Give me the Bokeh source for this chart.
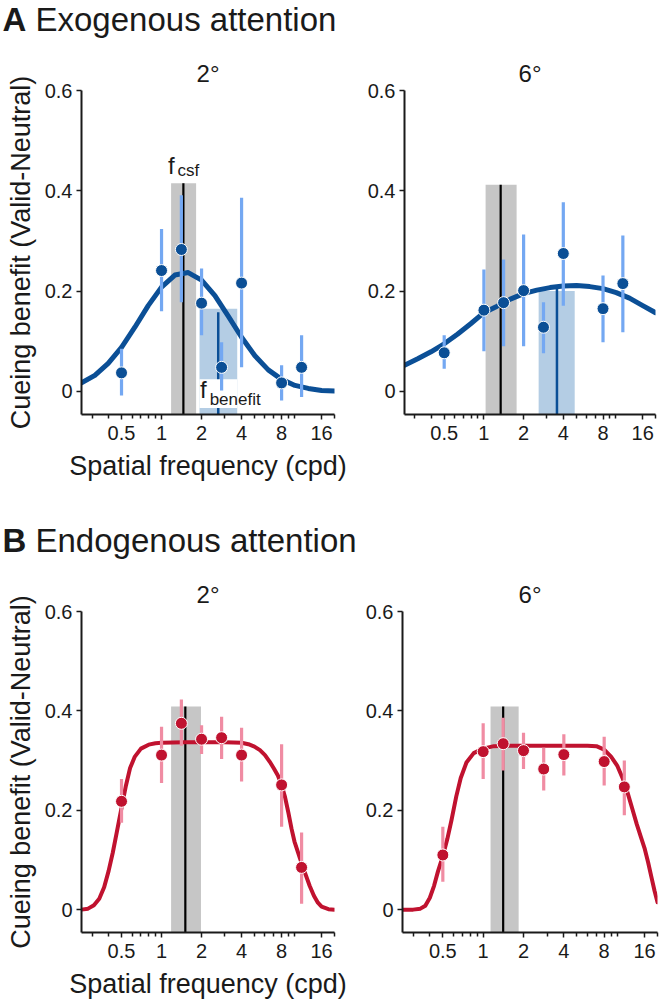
from bokeh.plotting import figure
from bokeh.layouts import column, row
from bokeh.models import Range1d, FixedTicker, CustomJSTickFormatter, Title
from bokeh.core.properties import value
from bokeh.embed import file_html
from bokeh.resources import INLINE

FONT = "Liberation Sans"
INK = "#1a1a1a"

# ---------------- data ----------------
sf = [0.5, 1.0, 1.41, 2.0, 2.83, 4.0, 8.0, 11.31]

exo2_mean = [0.037, 0.241, 0.283, 0.176, 0.048, 0.216, 0.017, 0.048]
exo2_lo = [-0.008, 0.160, 0.178, 0.112, 0.002, 0.048, -0.018, -0.011]
exo2_hi = [0.085, 0.324, 0.391, 0.245, 0.098, 0.386, 0.052, 0.112]

exo6_mean = [0.077, 0.162, 0.177, 0.201, 0.128, 0.275, 0.165, 0.215]
exo6_lo = [0.045, 0.080, 0.090, 0.090, 0.076, 0.171, 0.098, 0.118]
exo6_hi = [0.112, 0.243, 0.263, 0.313, 0.178, 0.377, 0.231, 0.311]

endo2_mean = [0.218, 0.311, 0.375, 0.343, 0.346, 0.311, 0.251, 0.085]
endo2_lo = [0.175, 0.255, 0.330, 0.313, 0.303, 0.258, 0.167, 0.012]
endo2_hi = [0.263, 0.368, 0.423, 0.371, 0.388, 0.366, 0.333, 0.155]

endo6_mean = [0.110, 0.318, 0.334, 0.320, 0.283, 0.312, 0.298, 0.247]
endo6_lo = [0.056, 0.263, 0.280, 0.283, 0.240, 0.270, 0.250, 0.190]
endo6_hi = [0.167, 0.375, 0.386, 0.356, 0.326, 0.353, 0.348, 0.300]

# fitted curves
exo_fit_f = [0.25, 0.315, 0.397, 0.5, 0.63, 0.794, 1.0, 1.26, 1.587, 2.0,
             2.52, 3.175, 4.0, 5.04, 6.35, 8.0, 10.08, 12.7, 16.0, 20.0]
exo2_fit = [0.017, 0.032, 0.056, 0.088, 0.128, 0.171, 0.208, 0.232, 0.237, 0.222,
            0.191, 0.150, 0.108, 0.071, 0.043, 0.024, 0.012, 0.006, 0.002, 0.001]
exo6_fit = [0.052, 0.065, 0.079, 0.095, 0.114, 0.135, 0.157, 0.170, 0.184, 0.195,
            0.202, 0.207, 0.210, 0.211, 0.209, 0.205, 0.197, 0.186, 0.171, 0.157]

endo2_fit_f = [0.25, 0.28, 0.31, 0.34, 0.37, 0.40, 0.43, 0.46, 0.50, 0.54, 0.58, 0.63,
               0.70, 0.80, 0.90, 1.0, 1.5, 2.0, 3.0, 4.0, 4.5, 5.0, 5.5, 6.0, 6.5,
               7.0, 7.5, 8.0, 8.5, 9.0, 9.5, 10.0, 11.0, 12.0, 13.0, 14.0, 15.0,
               16.0, 18.0, 20.0]
endo2_fit = [0.000, 0.002, 0.009, 0.022, 0.045, 0.078, 0.115, 0.155, 0.205, 0.250,
             0.285, 0.308, 0.324, 0.332, 0.335, 0.336, 0.337, 0.337, 0.337, 0.336,
             0.333, 0.328, 0.321, 0.311, 0.298, 0.284, 0.270, 0.251, 0.226, 0.195,
             0.163, 0.137, 0.103, 0.074, 0.048, 0.028, 0.014, 0.006, 0.001, 0.000]

endo6_fit_f = [0.25, 0.30, 0.34, 0.37, 0.40, 0.43, 0.46, 0.50, 0.54, 0.58, 0.63, 0.68,
               0.75, 0.85, 1.0, 1.2, 1.5, 2.0, 3.0, 4.0, 5.0, 6.0, 7.0, 8.0, 9.0,
               10.0, 11.0, 12.0, 13.0, 14.0, 15.0, 16.0, 17.0, 18.0, 19.0, 20.0]
endo6_fit = [0.000, 0.000, 0.002, 0.008, 0.024, 0.048, 0.077, 0.108, 0.142, 0.180,
             0.228, 0.265, 0.296, 0.315, 0.324, 0.329, 0.330, 0.330, 0.330, 0.330,
             0.330, 0.330, 0.329, 0.322, 0.308, 0.290, 0.264, 0.234, 0.202, 0.172,
             0.147, 0.124, 0.096, 0.066, 0.038, 0.015]

# f_csf bands (low, high, peak, top)
exo2_csf = (1.18, 1.82, 1.46, 0.415)
exo6_csf = (1.03, 1.77, 1.34, 0.412)
endo2_csf = (1.18, 1.98, 1.51, 0.409)
endo6_csf = (1.135, 1.84, 1.41, 0.409)

# f_benefit bands (low, high, peak, band top, line top)
exo2_ben = (1.93, 3.71, 2.67, 0.165, 0.158)
exo6_ben = (2.60, 4.88, 3.58, 0.200, 0.206)

x_major_ticks = [0.5, 1, 2, 4, 8, 16]
x_minor_ticks = [0.3, 0.4, 0.6, 0.7, 0.8, 0.9, 3, 5, 6, 7, 9, 10, 20]
y_ticks = [0, 0.2, 0.4, 0.6]
X_START, X_END = 0.25, 20
Y_START, Y_END = -0.046, 0.6

# colours
BLUE = "#0b4f96"
BLUE_LIGHT = "#74a8f2"
BLUE_BAND = "#b4cde4"
RED = "#c0122f"
PINK = "#f08ca3"
GRAY = "#c6c6c6"


def make_panel(width, height, mbl, mbr, mbt, mbb, title, xlabel, ylabel):
    p = figure(width=width, height=height, x_axis_type="log",
               x_range=Range1d(X_START, X_END), y_range=Range1d(Y_START, Y_END),
               output_backend="svg", toolbar_location=None, title=None,
               min_border_left=mbl, min_border_right=mbr,
               min_border_top=mbt, min_border_bottom=mbb)
    p.outline_line_color = None
    p.xgrid.visible = False
    p.ygrid.visible = False
    p.add_layout(Title(text=title, align="center", text_font=FONT,
                       text_font_size="24px", text_font_style="normal",
                       text_color=INK, standoff=7), "above")

    xa = p.xaxis[0]
    xa.ticker = FixedTicker(ticks=x_major_ticks, minor_ticks=x_minor_ticks)
    xa.formatter = CustomJSTickFormatter(
        code="return tick >= 1 ? tick.toFixed(0) : tick.toFixed(1);")
    ya = p.yaxis[0]
    ya.ticker = FixedTicker(ticks=y_ticks)
    ya.formatter = CustomJSTickFormatter(
        code="return Math.abs(tick) < 1e-9 ? '0' : tick.toFixed(1);")
    for ax in (xa, ya):
        ax.axis_line_width = 2
        ax.axis_line_color = INK
        ax.major_tick_line_color = INK
        ax.major_tick_line_width = 1.5
        ax.major_tick_in = 0
        ax.major_tick_out = 5
        ax.minor_tick_line_color = INK
        ax.minor_tick_line_width = 1.5
        ax.minor_tick_in = 0
        ax.minor_tick_out = 4
        ax.major_label_text_font = FONT
        ax.major_label_text_font_size = "20px"
        ax.major_label_text_color = INK
        ax.axis_label_text_font = FONT
        ax.axis_label_text_font_size = "27px"
        ax.axis_label_text_font_style = "normal"
        ax.axis_label_text_color = INK
    xa.major_label_standoff = 6
    xa.axis_label_standoff = 8
    ya.major_label_standoff = 4
    ya.axis_label_standoff = 6
    if xlabel:
        xa.axis_label = xlabel
    if ylabel:
        ya.axis_label = ylabel
    return p


def fill_panel(p, mean, lo, hi, fit_f, fit_v, csf, ben, dark, light, curve_w, ben_label=False):
    if ben is not None:
        blo, bhi, bpk, btop, bltop = ben
        p.quad(left=[blo], right=[bhi], bottom=[Y_START], top=[btop],
               fill_color=BLUE_BAND, line_color=None)
        p.segment(x0=[bpk], y0=[Y_START], x1=[bpk], y1=[bltop],
                  line_color=BLUE, line_width=2.5)
        if ben_label:
            # white background of the f_benefit label
            p.quad(left=[blo], right=[bhi], bottom=[-0.033], top=[0.0245],
                   fill_color="white", line_color=None)
    glo, ghi, gpk, gtop = csf
    p.quad(left=[glo], right=[ghi], bottom=[Y_START], top=[gtop],
           fill_color=GRAY, line_color=None)
    p.segment(x0=[gpk], y0=[Y_START], x1=[gpk], y1=[gtop],
              line_color="black", line_width=2.2)
    p.line(fit_f, fit_v, line_color=dark, line_width=curve_w, line_join="round", line_cap="round")
    p.segment(x0=sf, y0=lo, x1=sf, y1=hi, line_color=light, line_width=3.2)
    p.scatter(sf, mean, size=12, fill_color=dark, line_color="white", line_width=1)


# ---------------- headers ----------------
def header(letter, text, h, base):
    hp = figure(width=660, height=h, x_range=Range1d(0, 660), y_range=Range1d(0, h),
                output_backend="svg", toolbar_location=None, title=None,
                x_axis_location=None, y_axis_location=None,
                min_border=0)
    hp.outline_line_color = None
    hp.xgrid.visible = False
    hp.ygrid.visible = False
    hp.text(x=[2], y=[base], text=[letter], text_font=value(FONT), text_font_style="bold",
            text_font_size="33px", text_color=INK, text_baseline="middle")
    hp.text(x=[35], y=[base], text=[text], text_font=value(FONT),
            text_font_size="33px", text_color=INK, text_baseline="middle")
    return hp


ha = header("A", "Exogenous attention", 40, 21)
hb = header("B", "Endogenous attention", 50, 30)

YLAB = "Cueing benefit (Valid-Neutral)"
XLAB = "Spatial frequency (cpd)"

p1 = make_panel(350, 480, 81, 16, 50, 106, "2°", XLAB, YLAB)
fill_panel(p1, exo2_mean, exo2_lo, exo2_hi, exo_fit_f, exo2_fit, exo2_csf, exo2_ben,
           BLUE, BLUE_LIGHT, 5, ben_label=True)
# labels f_csf and f_benefit
p1.text(x=[1.12], y=[0.451], text=["f"], text_font=value(FONT), text_font_size="24px",
        text_color=INK, text_baseline="middle")
p1.text(x=[1.32], y=[0.441], text=["csf"], text_font=value(FONT), text_font_size="17px",
        text_color=INK, text_baseline="middle")
p1.text(x=[1.95], y=[0.004], text=["f"], text_font=value(FONT), text_font_size="24px",
        text_color=INK, text_baseline="middle")
p1.text(x=[2.30], y=[-0.016], text=["benefit"], text_font=value(FONT), text_font_size="17px",
        text_color=INK, text_baseline="middle")

p2 = make_panel(310, 480, 54, 5, 50, 106, "6°", None, None)
fill_panel(p2, exo6_mean, exo6_lo, exo6_hi, exo_fit_f, exo6_fit, exo6_csf, exo6_ben,
           BLUE, BLUE_LIGHT, 5)

p3 = make_panel(350, 435, 81, 16, 41, 73, "2°", XLAB, YLAB)
fill_panel(p3, endo2_mean, endo2_lo, endo2_hi, endo2_fit_f, endo2_fit, endo2_csf, None,
           RED, PINK, 4)

p4 = make_panel(310, 435, 52, 3, 41, 73, "6°", None, None)
fill_panel(p4, endo6_mean, endo6_lo, endo6_hi, endo6_fit_f, endo6_fit, endo6_csf, None,
           RED, PINK, 4)

layout = column(ha, row(p1, p2), hb, row(p3, p4))

with open("out.html", "w", encoding="utf-8") as f:
    f.write(file_html(layout, INLINE))
